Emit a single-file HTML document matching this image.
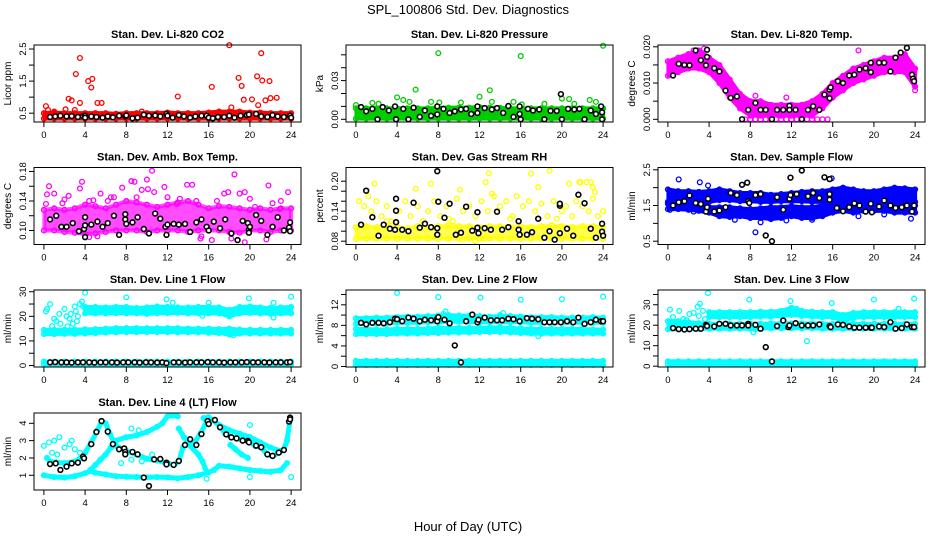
<!DOCTYPE html>
<html><head><meta charset="utf-8"><title>SPL_100806 Std. Dev. Diagnostics</title>
<style>html,body{margin:0;padding:0;background:#fff}svg{display:block;font-family:"Liberation Sans",Arial,sans-serif}</style>
</head><body>
<svg id="chart" width="936" height="540" viewBox="0 0 936 540" xmlns="http://www.w3.org/2000/svg">
<rect width="936" height="540" fill="#fff"/>
<text x="468" y="14" text-anchor="middle" font-size="13">SPL_100806  Std. Dev. Diagnostics</text>
<text x="468" y="531" text-anchor="middle" font-size="13">Hour of Day (UTC)</text>
</svg>
<script>
const hours=[0,1,2,3,4,5,6,7,8,9,10,11,12,13,14,15,16,17,18,19,20,21,22,23,24];
const hoursLate=[4,5,6,7,8,9,10,11,12,13,14,15,16,17,18,19,20,21,22,23,24];
const xTicks=[0,4,8,12,16,20,24];

// Panel 1 CO2
const p1BandLo=[.33,.33,.33,.33,.33,.33,.33,.33,.33,.33,.33,.33,.33,.33,.33,.33,.33,.33,.33,.33,.33,.33,.33,.33,.33];
const p1BandHi=[.5,.52,.5,.5,.5,.5,.5,.48,.5,.5,.5,.5,.52,.5,.5,.5,.52,.55,.55,.55,.52,.52,.5,.5,.5];
const p1Red=[[0.2,.72],[0.4,.6],[2.1,.62],[2.4,.95],[2.7,.9],[3.0,.6],[3.1,1.72],[3.5,2.22],[3.5,.82],[4.3,1.5],[4.6,1.3],[4.7,1.57],[5.2,.82],[5.6,.82],[13.0,1.02],[16.3,1.32],[18.0,2.62],[18.2,.68],[18.9,1.6],[19.2,1.35],[19.4,.92],[20.2,.93],[20.7,1.65],[20.8,.75],[21.1,2.37],[21.2,1.52],[21.5,.9],[21.9,1.5],[22.0,.97],[22.6,.98],[1.0,.55],[9.5,.55]];
const p1Black=[[0.6,.38],[1.1,.4],[1.6,.42],[2.2,.4],[2.7,.41],[3.3,.38],[3.8,.4],[4.0,.42],[4.0,.36],[4.6,.4],[5.1,.38],[5.7,.36],[6.2,.4],[6.7,.37],[7.3,.42],[7.9,.4],[8.0,.43],[8.6,.34],[9.1,.36],[9.7,.45],[10.2,.42],[10.8,.43],[11.3,.4],[11.9,.48],[12.0,.42],[12.5,.36],[13.1,.44],[13.6,.4],[14.2,.36],[14.7,.4],[15.3,.42],[15.8,.42],[16.0,.36],[16.4,.34],[16.9,.38],[17.5,.38],[18.0,.42],[18.5,.36],[19.1,.42],[19.7,.44],[19.9,.46],[20.6,.48],[21.1,.4],[21.7,.38],[22.2,.44],[22.7,.4],[23.3,.38],[23.9,.42],[24,.36]];

// Panel 2 Pressure
const p2BandLo=[.0005,.0005,.0005,.0005,.0005,.0005,.0005,.0005,.0005,.0005,.0005,.0005,.0005,.0005,.0005,.0005,.0005,.0005,.0005,.0005,.0005,.0005,.0005,.0005,.0005];
const p2BandHi=[.0085,.0085,.0085,.0085,.0085,.0085,.0085,.0085,.0088,.009,.009,.009,.0095,.009,.0088,.0085,.0085,.0085,.0085,.0085,.0085,.0085,.0085,.0085,.0085];
const p2Green=[[0.0,.011],[1.6,.0127],[2.2,.012],[4.0,.017],[4.6,.015],[5.2,.0135],[5.8,.023],[7.3,.0135],[8.0,.0513],[8.1,.013],[10.2,.013],[12.0,.0175],[13.0,.0225],[13.2,.0135],[15.3,.0135],[16.0,.049],[16.1,.0115],[18.3,.012],[20.0,.016],[20.7,.0157],[21.2,.012],[22.7,.015],[23.3,.0135],[24.0,.057]];
const p2Black=[[0.5,.0095],[1.0,.0062],[1.6,.0081],[2.1,0],[2.6,.0095],[3.2,.0068],[3.8,.01],[3.9,0],[4.6,.0081],[5.1,0],[5.6,.009],[6.2,.0019],[6.7,.0068],[7.3,.0027],[7.9,.01],[7.9,.0038],[8.5,.0081],[9.1,.0049],[9.6,.0062],[10.2,.0076],[10.7,.0081],[11.2,.0041],[11.8,.01],[11.8,.0049],[12.5,.0087],[13.2,.0076],[13.7,.0087],[14.3,.0049],[14.8,.0103],[15.3,.0019],[15.9,.01],[15.9,.0041],[16.0,0],[16.7,.0081],[17.2,.0068],[17.8,.0076],[18.3,0],[18.9,.0065],[19.5,.0065],[19.9,.0195],[20.0,0],[20.6,.0081],[21.2,.0076],[21.7,.0081],[22.2,0],[22.8,.0068],[23.3,.0041],[23.8,.01],[23.9,.0054],[23.9,0]];

// Panel 3 Li-820 Temp
const p3BandLo=[.012,.013,.014,.014,.013,.010,.006,.003,.001,.001,.001,.001,.001,.001,.001,.003,.006,.008,.010,.011,.012,.013,.013,.013,.009];
const p3BandHi=[.016,.017,.018,.019,.017,.015,.011,.007,.005,.005,.004,.004,.004,.004,.005,.007,.010,.012,.014,.015,.016,.017,.017,.018,.014];
const p3Magenta=[[7.5,0],[8,0],[8.5,0],[9,0],[9.5,0],[10,0],[10.5,0],[11,0],[11.5,0],[12,0],[12.5,0],[13,0],[13.5,0],[14,0],[14.5,0],[15,0],[15.5,0],[8.5,.0065],[11.5,.006],[18.5,.019],[24,.008],[3.5,.0195],[2.5,.019]];
const p3Black=[[0.5,.0121],[1.05,.0153],[1.6,.015],[2.1,.0149],[2.7,.019],[3.2,.0163],[3.7,.0149],[3.8,.0192],[3.8,.0172],[4.5,.0141],[5.0,.0132],[5.6,.0079],[6.1,.0059],[6.7,.0063],[7.2,0],[7.8,.0026],[8.5,.0045],[9.0,.0026],[9.5,.0026],[10.1,0],[10.6,.0026],[11.2,.0026],[11.8,.0037],[11.8,.0026],[12.4,.0026],[13.0,0],[13.6,.0026],[14.1,.0036],[14.7,.0026],[15.2,.0068],[15.7,.0058],[15.7,.0082],[15.8,.0088],[16.5,.0105],[17.0,.01],[17.6,.0121],[18.1,.0123],[18.6,.0137],[19.2,.0141],[19.7,.0156],[19.7,.013],[20.5,.0156],[21.0,.0156],[21.6,.0132],[22.1,.017],[22.6,.0184],[23.2,.0197],[23.7,.0123],[23.8,.0112],[23.9,.0105]];

// Panel 4 Amb Box Temp
const p4BandLo=[.1,.1,.098,.097,.095,.096,.098,.1,.1,.1,.098,.1,.1,.1,.098,.1,.1,.1,.098,.097,.1,.1,.098,.1,.1];
const p4BandHi=[.128,.13,.128,.13,.135,.133,.13,.135,.14,.138,.135,.132,.135,.138,.14,.135,.13,.133,.132,.13,.128,.13,.128,.13,.13];
const p4Magenta=[[0.2,.136],[0.3,.149],[0.5,.16],[1.0,.15],[1.8,.137],[2.4,.147],[3.5,.157],[3.7,.166],[4.4,.14],[4.8,.141],[5.5,.15],[6.2,.14],[6.8,.145],[7.6,.158],[8.5,.167],[8.8,.166],[9.5,.155],[10.0,.169],[10.1,.156],[10.5,.181],[10.7,.152],[11.7,.159],[12.9,.136],[13.9,.162],[14.4,.162],[15.2,.089],[16.3,.087],[17.5,.15],[17.9,.152],[18.5,.176],[19.0,.15],[19.5,.152],[20.5,.132],[21.6,.088],[21.8,.161],[22.2,.137],[22.9,.129],[23.7,.152],[18.2,.089],[19.5,.084],[15.3,.092],[4.4,.091],[5.2,.092],[2.0,.142],[6.5,.145],[9.0,.145],[12.0,.145],[13.2,.143],[14.8,.14],[16.8,.14],[20.0,.143],[23.0,.14]];
const p4Black=[[0.6,.115],[1.2,.12],[1.7,.105],[2.2,.105],[2.8,.11],[3.4,.099],[3.9,.102],[4.0,.091],[4.0,.107],[4.0,.118],[4.6,.108],[5.2,.112],[5.7,.105],[6.2,.11],[6.8,.12],[7.3,.094],[7.9,.122],[7.9,.115],[8.0,.109],[8.6,.111],[9.1,.118],[9.7,.102],[10.2,.096],[10.8,.123],[11.3,.116],[11.8,.105],[11.9,.094],[12.0,.108],[12.6,.109],[13.1,.108],[13.7,.109],[14.2,.098],[14.8,.111],[15.3,.115],[15.8,.105],[16.0,.1],[16.5,.112],[17.1,.103],[17.6,.115],[18.2,.096],[18.8,.087],[19.3,.113],[19.8,.11],[19.9,.101],[19.9,.097],[20.0,.105],[20.6,.121],[21.1,.113],[21.7,.094],[22.2,.105],[22.7,.118],[23.3,.1],[23.8,.104],[23.9,.111],[23.9,.099]];

// Panel 5 Gas Stream RH
const p5BandLo=[.085,.085,.085,.085,.085,.085,.085,.085,.085,.085,.085,.085,.085,.085,.085,.085,.085,.085,.085,.085,.085,.085,.085,.085,.085];
const p5BandHi=[.108,.11,.108,.11,.108,.106,.11,.108,.11,.112,.11,.11,.108,.11,.11,.108,.11,.108,.11,.112,.11,.108,.11,.11,.108];
const p5Yellow=[[0.3,.16],[0.8,.15],[1.2,.17],[1.5,.14],[2.0,.16],[2.5,.13],[3.0,.15],[3.4,.12],[4.2,.14],[4.8,.16],[5.3,.13],[6.0,.15],[6.5,.12],[7.0,.14],[7.6,.16],[8.2,.13],[8.8,.15],[9.4,.12],[9.8,.165],[10.4,.14],[11.0,.15],[11.6,.13],[12.2,.16],[12.8,.14],[13.4,.17],[14.0,.15],[14.6,.16],[15.2,.13],[15.6,.17],[16.2,.15],[16.8,.16],[17.4,.14],[18.0,.155],[18.6,.13],[19.2,.16],[20.0,.14],[20.4,.15],[21.0,.13],[21.4,.16],[22.0,.15],[22.6,.14],[23.0,.165],[23.5,.13],[24.0,.14],[1.8,.195],[5.8,.185],[7.3,.195],[10.1,.183],[12.6,.198],[12.9,.216],[13.2,.175],[17.0,.215],[17.7,.188],[18.8,.221],[20.7,.195],[21.7,.198],[21.8,.198],[22.4,.198],[22.8,.198],[23.0,.188],[23.2,.178],[10.4,.083],[11.6,.08],[12.4,.085],[3.0,.12],[9.0,.125],[15.0,.125],[19.5,.125]];
const p5Black=[[0.5,.113],[1.0,.181],[1.6,.128],[2.2,.091],[2.7,.113],[3.3,.105],[3.8,.103],[3.9,.165],[3.9,.141],[3.9,.118],[4.5,.103],[5.1,.1],[5.6,.157],[6.2,.107],[6.7,.115],[7.3,.108],[7.9,.106],[7.9,.22],[8.0,.159],[7.9,.093],[8.6,.127],[9.1,.155],[9.7,.093],[10.2,.097],[10.7,.149],[11.3,.101],[11.8,.138],[11.8,.107],[11.9,.096],[12.5,.106],[13.1,.103],[13.7,.139],[14.2,.103],[14.8,.108],[15.8,.12],[15.8,.103],[15.9,.093],[16.6,.093],[17.1,.098],[17.7,.125],[18.3,.087],[18.8,.1],[19.3,.083],[19.8,.096],[19.8,.151],[19.8,.155],[20.5,.105],[21.1,.091],[21.6,.173],[22.2,.156],[22.8,.105],[23.3,.087],[23.9,.115],[23.9,.099],[24.0,.091]];

// Panel 6 Sample Flow
const p6BandALo=[1.55,1.55,1.55,1.55,1.6,1.65,1.65,1.62,1.62,1.6,1.6,1.62,1.62,1.62,1.6,1.6,1.55,1.5,1.5,1.5,1.5,1.5,1.5,1.5,1.5];
const p6BandAHi=[1.95,1.9,1.9,1.88,1.9,1.95,1.9,1.85,1.85,1.85,1.8,1.82,1.85,1.88,1.9,1.9,1.95,2.0,1.95,1.9,1.9,1.95,2.0,1.98,1.95];
const p6BandBLo=[1.4,1.4,1.38,1.35,1.3,1.2,1.18,1.2,1.15,1.15,1.12,1.15,1.2,1.15,1.15,1.2,1.3,1.35,1.3,1.35,1.35,1.35,1.3,1.3,1.3];
const p6BandBHi=[1.6,1.6,1.6,1.55,1.45,1.45,1.45,1.42,1.4,1.42,1.45,1.45,1.48,1.45,1.45,1.5,1.6,1.6,1.6,1.6,1.6,1.6,1.6,1.6,1.6];
const p6Blue=[[1.05,2.23],[3.1,2.15],[3.9,2.06],[8.5,.75],[9.0,1.03],[15.9,2.26],[23.6,1.13],[0.2,1.38],[2.5,1.33],[6.5,1.1],[11.5,1.08],[14.0,1.1],[18.5,1.2],[21.0,1.25]];
const p6Black=[[0.5,1.5],[1.05,1.59],[1.6,1.62],[2.1,1.78],[2.7,1.57],[3.2,1.54],[3.7,1.33],[3.8,1.45],[3.9,1.69],[4.5,1.33],[5.0,1.36],[5.6,1.45],[6.1,1.85],[6.7,1.79],[7.2,2.08],[7.7,2.14],[7.8,1.62],[7.9,1.57],[8.5,1.79],[9.0,1.82],[9.5,.66],[10.1,.5],[10.6,1.73],[11.2,1.38],[11.8,1.69],[11.9,1.79],[11.9,2.28],[12.5,1.82],[13.0,2.48],[13.6,1.76],[14.1,1.85],[14.7,1.71],[15.2,2.29],[15.7,2.24],[15.7,1.82],[15.7,1.66],[16.4,1.43],[17.0,1.34],[17.6,1.45],[18.1,1.56],[18.6,1.5],[19.2,1.33],[19.7,1.55],[19.8,1.31],[20.5,1.47],[21.0,1.64],[21.6,1.5],[22.1,1.43],[22.7,1.45],[23.2,1.5],[23.7,1.33],[23.9,1.5]];

// Panel 7 Line 1 Flow
const p7UpLo=[21.2,21.2,21.2,21.3,21.2,21.2,21.0,21.2,21.3,21.4,21.2,21.2,21.2,21.2,20.0,21.2,21.4,21.2,21.0,21.2,21.2];
const p7UpHi=[23.8,23.8,23.6,23.8,23.8,23.4,23.6,24.0,23.8,23.6,23.6,23.8,23.8,23.6,22.6,23.8,24.0,23.6,23.4,23.6,23.8];
const p7MidLo=[12.8,12.8,12.9,12.9,13.0,13.2,13.4,13.5,13.6,13.6,13.6,13.6,13.6,13.5,13.5,13.5,13.3,13.2,12.6,13.0,13.0,13.0,13.0,13.0,13.0];
const p7MidHi=[14.5,14.5,14.5,14.6,14.7,14.8,15.0,15.2,15.2,15.2,15.2,15.2,15.2,15.2,15.0,15.0,15.0,14.8,15.0,14.6,14.5,14.5,14.5,14.5,14.5];
const p7BotLo=[.4,.4,.4,.4,.4,.4,.4,.4,.4,.4,.4,.4,.4,.4,.4,.4,.4,.4,.4,.4,.4,.4,.4,.4,.4];
const p7BotHi=[1.6,1.6,1.6,1.6,1.6,1.6,1.6,1.6,1.6,1.6,1.6,1.6,1.6,1.6,1.6,1.6,1.6,1.6,1.6,1.6,1.6,1.6,1.6,1.6,1.6];
const p7Cyan=[[0.2,22],[0.3,23],[0.6,25],[0.8,16],[1.0,19],[1.2,18],[1.5,21],[1.6,17],[2.0,23],[2.2,20],[2.5,19],[2.6,21],[2.8,17],[3.0,24],[3.1,22],[3.2,18],[3.5,25],[3.7,26],[3.8,24],[2.3,16],[3.3,20],[4.0,29.6],[8.0,27.7],[11.9,26.9],[12.5,25.5],[16.0,25.5],[19.9,27.3],[20.1,21.5],[22.3,25.5],[22.6,22],[15.4,20.2],[22.3,19.5],[18.4,12.3],[24.0,28],[23.5,22.5],[23.8,23]];
const p7Black=[[0.6,1.3],[1.1,1.4],[1.7,1.3],[2.2,1.3],[2.7,1.2],[3.3,1.3],[3.8,1.3],[4.4,1.3],[4.9,1.2],[5.5,1.3],[6.0,1.3],[6.6,1.3],[7.1,1.2],[7.7,1.3],[8.2,1.3],[8.8,1.3],[9.3,1.2],[9.9,1.3],[10.4,1.3],[11.0,1.2],[11.5,1.3],[11.9,1.0],[12.6,1.3],[13.1,1.3],[13.7,1.2],[14.2,1.3],[14.8,1.3],[15.3,1.3],[15.9,1.4],[16.4,1.3],[17.0,1.3],[17.5,1.2],[18.1,1.3],[18.6,1.3],[19.2,1.3],[19.7,1.4],[20.3,1.3],[20.8,1.3],[21.4,1.3],[21.9,1.2],[22.5,1.3],[23.0,1.3],[23.6,1.3],[23.9,1.4]];

// Panel 8 Line 2 Flow
const p8UpLo=[8.3,8.3,8.4,8.4,8.5,8.5,8.5,8.6,8.6,8.7,8.7,8.7,8.6,8.6,8.6,8.6,8.6,8.5,8.5,8.5,8.5,8.5,8.5,8.5,8.5];
const p8UpHi=[9.4,9.4,9.5,9.5,9.6,9.7,9.7,9.8,9.9,10.0,9.9,9.9,9.8,9.7,9.8,9.8,9.7,9.6,9.6,9.6,9.5,9.5,9.5,9.6,9.5];
const p8MidLo=[6.3,6.3,6.3,6.3,6.4,6.4,6.4,6.5,6.5,6.6,6.6,6.6,6.7,6.7,6.7,6.6,6.5,6.4,6.4,6.4,6.4,6.4,6.4,6.4,6.4];
const p8MidHi=[7.3,7.3,7.2,7.2,7.3,7.3,7.3,7.4,7.5,7.5,7.5,7.5,7.5,7.6,7.6,7.5,7.4,7.3,7.3,7.3,7.3,7.3,7.3,7.2,7.2];
const p8BotLo=[.3,.3,.3,.3,.3,.3,.3,.3,.3,.3,.3,.3,.3,.3,.3,.3,.3,.3,.3,.3,.3,.3,.3,.3,.3];
const p8BotHi=[1.1,1.1,1.1,1.1,1.1,1.1,1.1,1.1,1.1,1.1,1.1,1.1,1.1,1.1,1.1,1.1,1.1,1.1,1.1,1.1,1.1,1.1,1.1,1.1,1.1];
const p8Cyan=[[4.0,14.3],[8.0,13.5],[12.1,13.4],[16.0,13.0],[20.0,13.1],[24.0,13.6],[8.7,10.7],[8.5,10.2],[14.3,10.4],[14.0,10.0],[17.7,5.9],[0.3,8.6],[0.5,9.0],[2.0,9.2]];
const p8Black=[[0.5,8.5],[1.0,8.2],[1.6,8.5],[2.2,8.5],[2.7,8.4],[3.3,8.6],[3.8,9.3],[4.0,9.2],[4.5,8.8],[5.1,9.5],[5.6,9.3],[6.2,8.8],[6.7,9.1],[7.3,9.0],[7.9,9.3],[7.9,8.8],[8.0,9.6],[8.6,9.1],[9.1,8.4],[9.6,4.1],[10.2,.8],[10.7,8.8],[11.3,10.1],[11.8,8.6],[11.9,9.1],[12.5,9.5],[13.1,9.0],[13.7,9.0],[14.2,9.0],[14.8,9.3],[15.3,9.2],[15.9,8.8],[16.6,9.4],[17.1,9.3],[17.7,9.2],[18.3,8.6],[18.8,8.6],[19.3,8.6],[19.9,8.6],[20.5,8.8],[21.1,8.6],[21.6,9.5],[22.2,8.3],[22.8,8.6],[23.3,9.1],[23.8,8.8],[24.0,8.8]];

// Panel 9 Line 3 Flow
const p9UpLo=[24.0,24.0,24.0,24.0,24.0,24.2,24.2,24.5,25.0,24.5,24.2,24.0,24.0,22.0,23.5,24.0,24.0,24.0,24.0,24.0,24.0];
const p9UpHi=[26.4,26.4,26.4,26.4,26.4,26.6,26.6,27.0,28.5,27.0,26.6,26.4,26.4,25.0,26.0,26.4,26.4,26.4,26.4,26.4,26.4];
const p9MidLo=[18.0,18.0,18.0,18.2,18.3,18.3,18.3,18.3,18.3,18.3,18.5,18.5,18.5,18.5,18.5,18.3,18.3,18.3,18.3,18.3,18.3,18.3,18.3,18.3,18.3];
const p9MidHi=[22.0,22.0,21.5,21.0,20.7,20.7,20.7,20.7,20.7,20.7,20.9,20.9,20.9,20.9,20.9,20.7,20.7,20.7,20.7,20.7,20.7,20.7,20.7,20.7,20.7];
const p9BotLo=[.8,.8,.8,.8,.8,.8,.8,.8,.8,.8,.8,.8,.8,.8,.8,.8,.8,.8,.8,.8,.8,.8,.8,.8,.8];
const p9BotHi=[2.4,2.4,2.4,2.4,2.4,2.4,2.4,2.4,2.4,2.4,2.4,2.4,2.4,2.4,2.4,2.4,2.4,2.4,2.4,2.4,2.4,2.4,2.4,2.4,2.4];
const p9Cyan=[[3.9,35.7],[7.9,32.5],[11.9,31.8],[15.9,30.8],[20.0,32.5],[23.9,33],[8.3,16.6],[8.5,18],[13.5,12.2],[12.5,28],[22.4,28],[0.2,27.6],[1.1,27],[2.1,25.5],[3.1,30.5],[2.9,29],[3.4,27],[0.5,24],[1.5,23],[2.5,26],[3.0,24.5],[3.6,23],[1.8,22.5],[22.0,26],[23.0,25]];
const p9Black=[[0.5,18.6],[1.05,18.1],[1.6,17.9],[2.1,18.1],[2.7,18.3],[3.2,18.3],[3.7,20.2],[3.8,19.6],[4.5,19.4],[5.0,20.7],[5.6,20.7],[6.1,19.9],[6.7,19.9],[7.2,19.9],[7.8,20.7],[7.8,19.9],[8.5,20.2],[9.0,18.3],[9.5,9.3],[10.1,2.3],[10.6,19.6],[11.2,22.3],[11.7,19.1],[11.8,19.9],[12.4,21.0],[13.0,19.9],[13.6,19.9],[14.1,19.9],[14.7,20.4],[15.7,19.6],[15.8,19.1],[16.5,20.4],[17.0,20.2],[17.6,19.4],[18.1,18.8],[18.6,18.8],[19.2,18.8],[19.7,18.8],[19.8,18.8],[20.5,19.4],[21.0,19.1],[21.6,21.5],[22.1,18.3],[22.7,18.6],[23.2,20.4],[23.7,19.1],[23.9,19.1]];

// Panel 10 Line 4 (LT) Flow
const p10Bottom=[[0,1.0],[1,0.9],[2,0.87],[3,0.95],[4,1.12],[4.5,1.25],[5,1.15],[6,1.05],[7,0.95],[8,0.92],[9,0.9],[10,0.88],[11,0.9],[12,0.88],[13,0.83],[14,0.9],[15,1.0],[16,1.17],[16.5,1.3],[17,1.55],[18,1.5],[19,1.4],[20,1.3],[21,1.25],[22,1.2],[23,1.3],[23.6,1.7]];
const p10CurveA=[[0.3,2.0],[0.6,1.8],[1.2,1.75],[2,1.7],[3,1.8],[3.6,2.0],[4,2.3],[4.6,2.9],[5.2,3.6],[5.6,4.1],[6,4.0],[6.4,3.4],[7,2.7],[8,2.4],[9,2.2],[10,1.95],[11,1.85],[12,1.7],[12.6,1.6],[13.1,1.8],[13.5,2.6],[14,3.0],[14.5,2.8],[15.2,3.4],[15.8,4.1],[16.5,4.15],[17,3.9],[17.6,3.4],[18.2,3.2],[19,3.1],[19.8,3.0],[20.5,2.7],[21.1,2.6],[21.7,2.2],[22.2,2.1],[22.8,2.3],[23.3,2.5],[23.6,3.0],[23.9,4.2]];
const p10CurveB=[[4.5,1.3],[5,1.6],[5.5,1.9],[6,2.2],[6.5,2.6],[7,3.0],[8,3.2],[9,3.3],[10,3.5],[11,3.8],[11.5,4.0],[12,4.4],[12.5,4.45],[13,4.4]];
const p10CurveC=[[15.5,4.3],[16,4.35],[17,3.9],[18,3.6],[19,3.4],[20,3.2],[21,2.9],[22,2.6],[23,2.4]];
const p10CurveD=[[13.1,3.7],[13.6,3.2],[14.1,2.75],[15.0,2.2],[15.4,1.8],[15.8,1.2]];
const p10CurveE=[[18.1,2.75],[18.6,2.5],[19.2,2.2],[19.8,2.0]];
const p10Cyan=[[0,2.7],[0.5,2.9],[1,3.0],[1.5,3.2],[2,2.6],[2.5,2.8],[3,2.5],[3.5,2.3],[0.8,2.3],[2.7,3.0],[1.3,2.2],[8.5,3.7],[9.2,3.6],[7.5,1.7],[8.5,1.9],[9.5,1.8],[20.0,3.9],[20.0,0.9],[24.0,0.9],[15.8,0.8],[10.5,2.2]];
const p10Black=[[0.6,1.65],[1.15,1.69],[1.6,1.31],[2.2,1.5],[2.7,1.69],[3.3,1.73],[3.8,2.08],[3.9,1.98],[4.6,2.8],[5.1,3.5],[5.6,4.13],[6.2,3.52],[6.7,2.8],[7.3,2.5],[7.8,2.55],[7.9,2.35],[7.9,2.21],[8.6,2.35],[9.1,2.21],[9.7,.87],[10.2,.38],[10.7,1.92],[11.3,1.94],[11.9,1.73],[11.9,1.63],[12.6,1.6],[13.1,1.83],[13.7,2.75],[14.2,3.08],[14.8,2.75],[15.3,3.38],[15.9,4.13],[16.0,3.96],[16.6,4.19],[17.1,3.77],[17.7,3.36],[18.2,3.19],[18.7,3.13],[19.3,3.0],[19.8,2.98],[19.9,2.9],[20.6,2.71],[21.1,2.62],[21.7,2.21],[22.2,2.12],[22.8,2.31],[23.3,2.46],[23.8,4.1],[23.9,4.33],[23.9,4.23]];

const COLX=[34,346,658], ROWY=[45,167.5,290,413], BW=267, BH=77;
const NS='http://www.w3.org/2000/svg';
const svg=document.getElementById('chart');
function mk(tag,attrs,parent){const e=document.createElementNS(NS,tag);for(const k in attrs)e.setAttribute(k,attrs[k]);(parent||svg).appendChild(e);return e;}

const panels=[
 {id:'co2',title:'Stan. Dev. Li-820 CO2',ylab:'Licor ppm',c:0,r:0,ylim:[0.225,2.626],ticks:[0.5,1,1.5,2,2.5],labels:{0.5:'0.5',1.5:'1.5',2.5:'2.5'},
  bands:[{h:hours,lo:p1BandLo,hi:p1BandHi,col:'#ff0000'}],paths:[],pts:[{d:p1Red,col:'#ff0000'},{d:p1Black,col:'#000'}]},
 {id:'pressure',title:'Stan. Dev. Li-820 Pressure',ylab:'kPa',c:1,r:0,ylim:[-0.0021,0.0576],ticks:[0,.01,.02,.03,.04,.05],labels:{0:'0.00',0.03:'0.03'},
  bands:[{h:hours,lo:p2BandLo,hi:p2BandHi,col:'#00cc00'}],paths:[],pts:[{d:p2Green,col:'#00cc00'},{d:p2Black,col:'#000'}]},
 {id:'li820-temp',title:'Stan. Dev. Li-820 Temp.',ylab:'degrees C',c:2,r:0,ylim:[-0.00075,0.0205],ticks:[0,.005,.01,.015,.02],labels:{0:'0.000',0.01:'0.010',0.02:'0.020'},
  bands:[{h:hours,lo:p3BandLo,hi:p3BandHi,col:'#ff00ff'}],paths:[],pts:[{d:p3Magenta,col:'#ff00ff'},{d:p3Black,col:'#000'}]},
 {id:'amb-box-temp',title:'Stan. Dev. Amb. Box Temp.',ylab:'degrees C',c:0,r:1,ylim:[0.081,0.1854],ticks:[.1,.12,.14,.16,.18],labels:{0.1:'0.10',0.14:'0.14',0.18:'0.18'},
  bands:[{h:hours,lo:p4BandLo,hi:p4BandHi,col:'#ff00ff',op:0.7}],paths:[],pts:[{d:p4Magenta,col:'#ff00ff'},{d:p4Black,col:'#000'}]},
 {id:'gas-rh',title:'Stan. Dev. Gas Stream RH',ylab:'percent',c:1,r:1,ylim:[0.0734,0.2274],ticks:[.08,.1,.12,.14,.16,.18,.2],labels:{0.08:'0.08',0.14:'0.14',0.2:'0.20'},
  bands:[{h:hours,lo:p5BandLo,hi:p5BandHi,col:'#ffff00',op:0.7}],paths:[],pts:[{d:p5Yellow,col:'#ffff00'},{d:p5Black,col:'#000'}]},
 {id:'sample-flow',title:'Stan. Dev. Sample Flow',ylab:'ml/min',c:2,r:1,ylim:[0.408,2.564],ticks:[.5,1,1.5,2,2.5],labels:{0.5:'0.5',1.5:'1.5',2.5:'2.5'},
  bands:[{h:hours,lo:p6BandALo,hi:p6BandAHi,col:'#0000ff'},{h:hours,lo:p6BandBLo,hi:p6BandBHi,col:'#0000ff'}],paths:[],pts:[{d:p6Blue,col:'#0000ff'},{d:p6Black,col:'#000'}]},
 {id:'line1-flow',title:'Stan. Dev. Line 1 Flow',ylab:'ml/min',c:0,r:2,ylim:[-0.6,30.7],ticks:[0,5,10,15,20,25,30],labels:{0:'0',10:'10',20:'20',30:'30'},
  bands:[{h:hoursLate,lo:p7UpLo,hi:p7UpHi,col:'#00ffff'},{h:hours,lo:p7MidLo,hi:p7MidHi,col:'#00ffff'},{h:hours,lo:p7BotLo,hi:p7BotHi,col:'#00ffff'}],paths:[],pts:[{d:p7Cyan,col:'#00ffff'},{d:p7Black,col:'#000'}]},
 {id:'line2-flow',title:'Stan. Dev. Line 2 Flow',ylab:'ml/min',c:1,r:2,ylim:[-0.1,14.88],ticks:[0,2,4,6,8,10,12,14],labels:{0:'0',4:'4',8:'8',12:'12'},
  bands:[{h:hours,lo:p8UpLo,hi:p8UpHi,col:'#00ffff'},{h:hours,lo:p8MidLo,hi:p8MidHi,col:'#00ffff'},{h:hours,lo:p8BotLo,hi:p8BotHi,col:'#00ffff'}],paths:[],pts:[{d:p8Cyan,col:'#00ffff'},{d:p8Black,col:'#000'}]},
 {id:'line3-flow',title:'Stan. Dev. Line 3 Flow',ylab:'ml/min',c:2,r:2,ylim:[-0.4,37.2],ticks:[0,5,10,15,20,25,30,35],labels:{0:'0',10:'10',20:'20',30:'30'},
  bands:[{h:hoursLate,lo:p9UpLo,hi:p9UpHi,col:'#00ffff'},{h:hours,lo:p9MidLo,hi:p9MidHi,col:'#00ffff'},{h:hours,lo:p9BotLo,hi:p9BotHi,col:'#00ffff'}],paths:[],pts:[{d:p9Cyan,col:'#00ffff'},{d:p9Black,col:'#000'}]},
 {id:'line4-flow',title:'Stan. Dev. Line 4 (LT) Flow',ylab:'ml/min',c:0,r:3,ylim:[0.152,4.594],ticks:[1,2,3,4],labels:{1:'1',2:'2',3:'3',4:'4'},
  bands:[],paths:[p10Bottom,p10CurveA,p10CurveB,p10CurveC,p10CurveD,p10CurveE],pathCol:'#00ffff',pts:[{d:p10Bottom,col:'#00ffff'},{d:p10CurveA,col:'#00ffff'},{d:p10CurveB,col:'#00ffff'},{d:p10CurveC,col:'#00ffff'},{d:p10CurveD,col:'#00ffff'},{d:p10CurveE,col:'#00ffff'},{d:p10Cyan,col:'#00ffff'},{d:p10Black,col:'#000'}]}
];

panels.forEach(p=>{
  const L=COLX[p.c], T=ROWY[p.r], B=T+BH, R=L+BW;
  const xs=h=>L+(h+0.96)/25.92*BW;
  const ys=v=>B-(v-p.ylim[0])/(p.ylim[1]-p.ylim[0])*BH;
  const g=mk('g',{});
  
  
  const title=mk('text',{x:(L+R)/2,y:T-7,'text-anchor':'middle','font-size':'11','font-weight':'bold'},g);
  title.textContent=p.title;
  
  
  const yl=mk('text',{x:0,y:0,'text-anchor':'middle','font-size':'10',transform:`translate(${L-23},${(T+B)/2}) rotate(-90)`},g);
  yl.textContent=p.ylab;
  
  
  const plot=mk('g',{},g);
  
  
  p.bands.forEach(b=>{
    let pts=b.h.map((h,i)=>xs(Math.max(h,0.05))+','+ys(b.hi[i]));
    pts=pts.concat(b.h.slice().reverse().map((h,j)=>{const i=b.h.length-1-j;return xs(Math.max(h,0.05))+','+ys(b.lo[i]);}));
    const poly=mk('polygon',{points:pts.join(' '),fill:b.col,'fill-opacity':b.op||1,stroke:b.col,'stroke-opacity':b.op||1,'stroke-width':'4','stroke-linejoin':'round'},plot);
    
    
    b.h.forEach((h,i)=>{
      [b.lo[i],b.hi[i]].forEach(v=>{
        const c=mk('circle',{cx:xs(h),cy:ys(v),r:2.4,fill:'none',stroke:b.col,'stroke-width':1.3},plot);
        
        
      });
    });
  });
  (p.paths||[]).forEach(path=>{
    const pl=mk('polyline',{points:path.map(q=>xs(q[0])+','+ys(q[1])).join(' '),fill:'none',stroke:p.pathCol,'stroke-width':'5','stroke-linejoin':'round','stroke-linecap':'round'},plot);
    
    
  });
  p.pts.forEach(s=>{
    s.d.forEach(q=>{
      const c=mk('circle',{cx:xs(q[0]),cy:ys(q[1]),r:2.4,fill:s.col==='#000'?'#fff':'none',stroke:s.col,'stroke-width':s.col==='#000'?1.6:1.3},plot);
      
      
    });
  });
  const box=mk('rect',{x:L,y:T,width:BW,height:BH,fill:'none',stroke:'#000','stroke-width':1},g);
  
  
  const xa=mk('g',{},g);
  
  
  mk('line',{x1:xs(0),x2:xs(24),y1:B,y2:B,stroke:'#000'},xa);
  xTicks.forEach(t=>{
    mk('line',{x1:xs(t),x2:xs(t),y1:B,y2:B+5,stroke:'#000'},xa);
    const tl=mk('text',{x:xs(t),y:B+16,'text-anchor':'middle','font-size':'9.5'},xa);
    tl.textContent=String(t);
    
    
  });
  const ya=mk('g',{},g);
  
  
  mk('line',{x1:L,x2:L,y1:ys(p.ticks[0]),y2:ys(p.ticks[p.ticks.length-1]),stroke:'#000'},ya);
  p.ticks.forEach(t=>{
    mk('line',{x1:L-5,x2:L,y1:ys(t),y2:ys(t),stroke:'#000'},ya);
    const key=Object.keys(p.labels).find(k=>Math.abs(parseFloat(k)-t)<1e-9);
    if(key!==undefined){
      const tl=mk('text',{x:0,y:0,'text-anchor':'middle','font-size':'9.5',transform:`translate(${L-8},${ys(t)}) rotate(-90)`},ya);
      tl.textContent=p.labels[key];
      
      
    }
  });
});
</script>
</body></html>
